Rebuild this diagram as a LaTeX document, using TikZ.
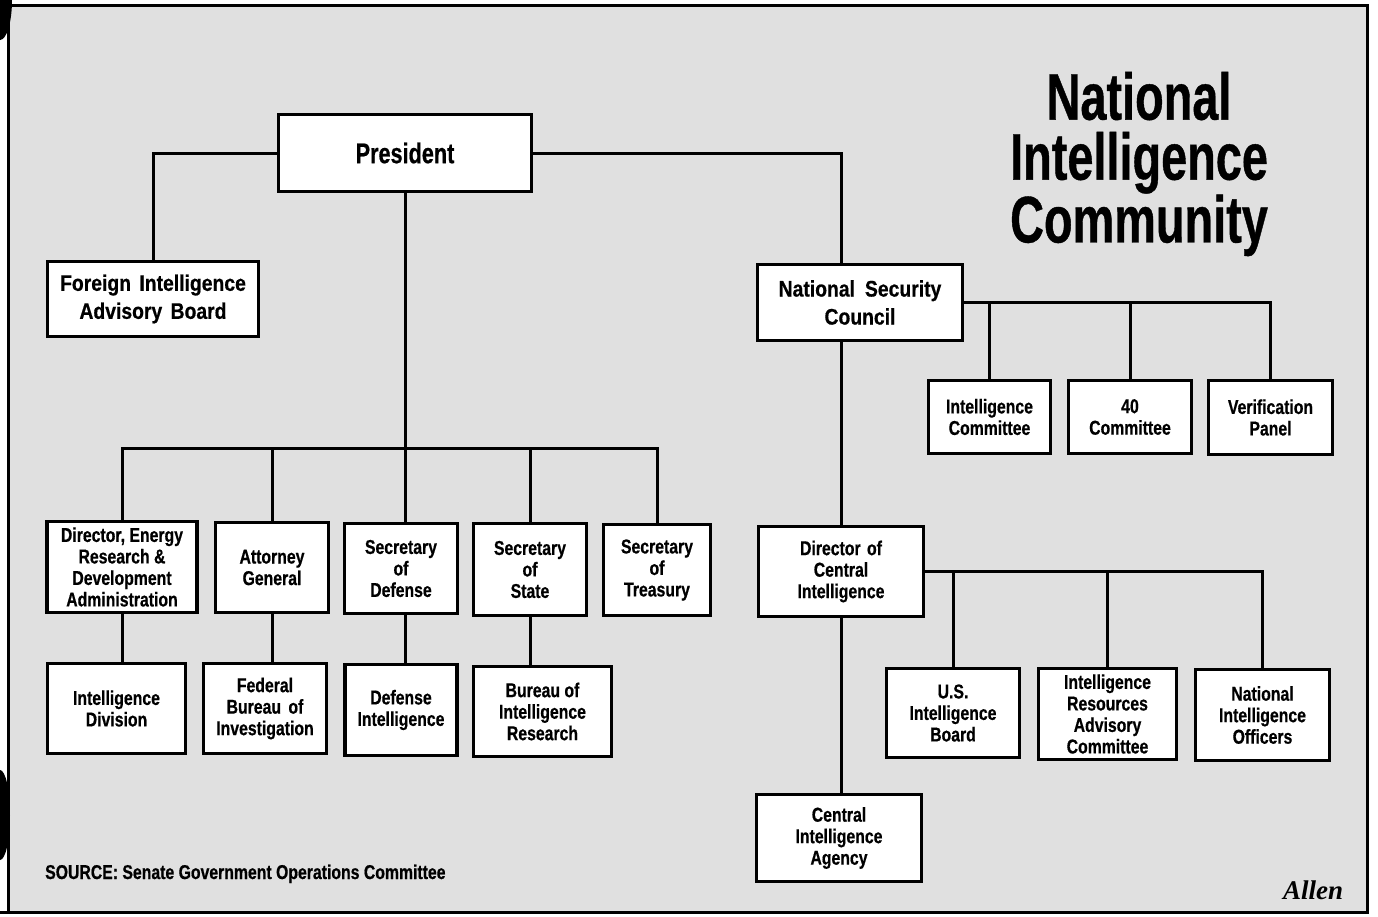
\documentclass[tikz,border=0pt]{standalone}
\usepackage{fontspec}
\setmainfont[FakeStretch=0.79, BoldFeatures={FakeBold=0.6}]{Liberation Sans}
\newfontfamily\bigfont[FakeStretch=0.86, BoldFeatures={FakeBold=0.6}]{Liberation Sans}
\newfontfamily\presfont[FakeStretch=0.76, BoldFeatures={FakeBold=0.6}]{Liberation Sans}
\newfontfamily\titlefont[FakeStretch=0.71, BoldFeatures={FakeBold=0.6}]{Liberation Sans}
\newfontfamily\signfont{Liberation Serif}
\begin{document}
\begin{tikzpicture}[x=1pt,y=-1pt,
  box/.style={draw=black, line width=3.5pt, fill=white, inner sep=0pt, align=center,
    font=\fontsize{20pt}{21.5pt}\selectfont\bfseries},
  bigbox/.style={box, font=\bigfont\fontsize{22.5pt}{28pt}\selectfont\bfseries},
  sz/.style 2 args={minimum width=#1pt, minimum height=#2pt},
  link/.style={line width=3pt},
  frame/.style={line width=3pt}]
\useasboundingbox (0,0) rectangle (1378,916);
\fill[white] (0,0) rectangle (1378,916);
\fill[black!12] (8,5) rectangle (1367,912);
\draw[frame] (0,5) -- (1367,5) -- (1367,912) -- (0,912);
\draw[frame] (8,5) -- (8,912);
\fill[black] (0,0) ellipse [x radius=12pt, y radius=40pt];
\fill[black] (0,815) ellipse [x radius=10pt, y radius=45pt];

% nodes
\node[box, sz={253}{77}, font=\presfont\fontsize{28.5pt}{30pt}\selectfont\bfseries] (pres) at (405,153) {President};
\node[bigbox, sz={211}{75}] (fiab) at (153,299) {Foreign\hspace{3pt} Intelligence\\Advisory\hspace{3pt} Board};
\node[bigbox, sz={205}{76}] (nsc) at (860,302.5) {National\hspace{10pt}Security\\Council};
\node[box, sz={122}{73}] (icom) at (989.5,417) {Intelligence\\Committee};
\node[box, sz={123}{73}] (c40) at (1130,417) {40\\Committee};
\node[box, sz={124}{74}] (vp) at (1270.5,417.5) {Verification\\Panel};
\node[box, sz={150}{91}] (erda) at (122,567) {Director, Energy\\Research \&\\Development\\Administration};
\node[box, sz={113}{90}] (ag) at (272,567.5) {Attorney\\General};
\node[box, sz={113}{90}] (secdef) at (401,568.5) {Secretary\\of\\Defense};
\node[box, sz={113}{92}] (secstate) at (530,569.5) {Secretary\\of\\State};
\node[box, sz={107}{91}] (sectreas) at (657,570) {Secretary\\of\\Treasury};
\node[box, sz={165}{90}] (dci) at (841,571.5) {Director\hspace{2pt} of\\Central\\Intelligence};
\node[box, sz={138}{90}] (intdiv) at (116.5,708.5) {Intelligence\\Division};
\node[box, sz={123}{90}] (fbi) at (265,708.5) {Federal\\Bureau\hspace{3pt} of\\Investigation};
\node[box, sz={112}{91}] (defint) at (401,710) {Defense\\Intelligence};
\node[box, sz={138}{90}] (bir) at (542.5,711.5) {Bureau of\\Intelligence\\Research};
\node[box, sz={133}{89}] (usib) at (953,713) {U.S.\\Intelligence\\Board};
\node[box, sz={138}{91}] (irac) at (1107.5,714) {Intelligence\\Resources\\Advisory\\Committee};
\node[box, sz={134}{91}] (nio) at (1262.5,715) {National\\Intelligence\\Officers};
\node[box, sz={165}{87}] (cia) at (839,838) {Central\\Intelligence\\Agency};

% title, source, signature
\node[align=center, inner sep=0pt, font=\titlefont\fontsize{66pt}{60pt}\selectfont\bfseries] (title) at (1139,164) {National\\Intelligence\\Community};
\node[anchor=base west, inner sep=0pt, font=\fontsize{20pt}{22pt}\selectfont\bfseries] (source) at (45,879) {SOURCE: Senate Government Operations Committee};
\node[inner sep=0pt, font=\signfont\fontsize{27pt}{30pt}\selectfont\itshape\bfseries] (sign) at (1313,890) {Allen};

% connectors
\coordinate (bus) at (0,448);
\draw[link] (pres.west) -| (fiab.north);
\draw[link] (pres.east) -| (dci.north |- nsc.north);
\draw[link] (nsc.south -| dci.north) -- (dci.north);
\draw[link] (dci.south) -- (dci.south |- cia.north);
\draw[link] (pres.south) -- (pres.south |- secdef.north);
\draw[link] (erda.north) -- (erda.north |- bus) -- (sectreas.north |- bus) -- (sectreas.north);
\draw[link] (ag.north) -- (ag.north |- bus);
\draw[link] (secstate.north) -- (secstate.north |- bus);
\draw[link] (erda.south) -- (erda.south |- intdiv.north);
\draw[link] (ag.south) -- (ag.south |- fbi.north);
\draw[link] (secdef.south -| pres.south) -- (defint.north -| pres.south);
\draw[link] (secstate.south) -- (secstate.south |- bir.north);
\draw[link] (nsc.east) -| (vp.north);
\draw[link] (icom.north) -- (icom.north |- nsc.east);
\draw[link] (c40.north) -- (c40.north |- nsc.east);
\draw[link] (dci.east) -| (nio.north);
\draw[link] (usib.north) -- (usib.north |- dci.east);
\draw[link] (irac.north) -- (irac.north |- dci.east);
\end{tikzpicture}
\end{document}
